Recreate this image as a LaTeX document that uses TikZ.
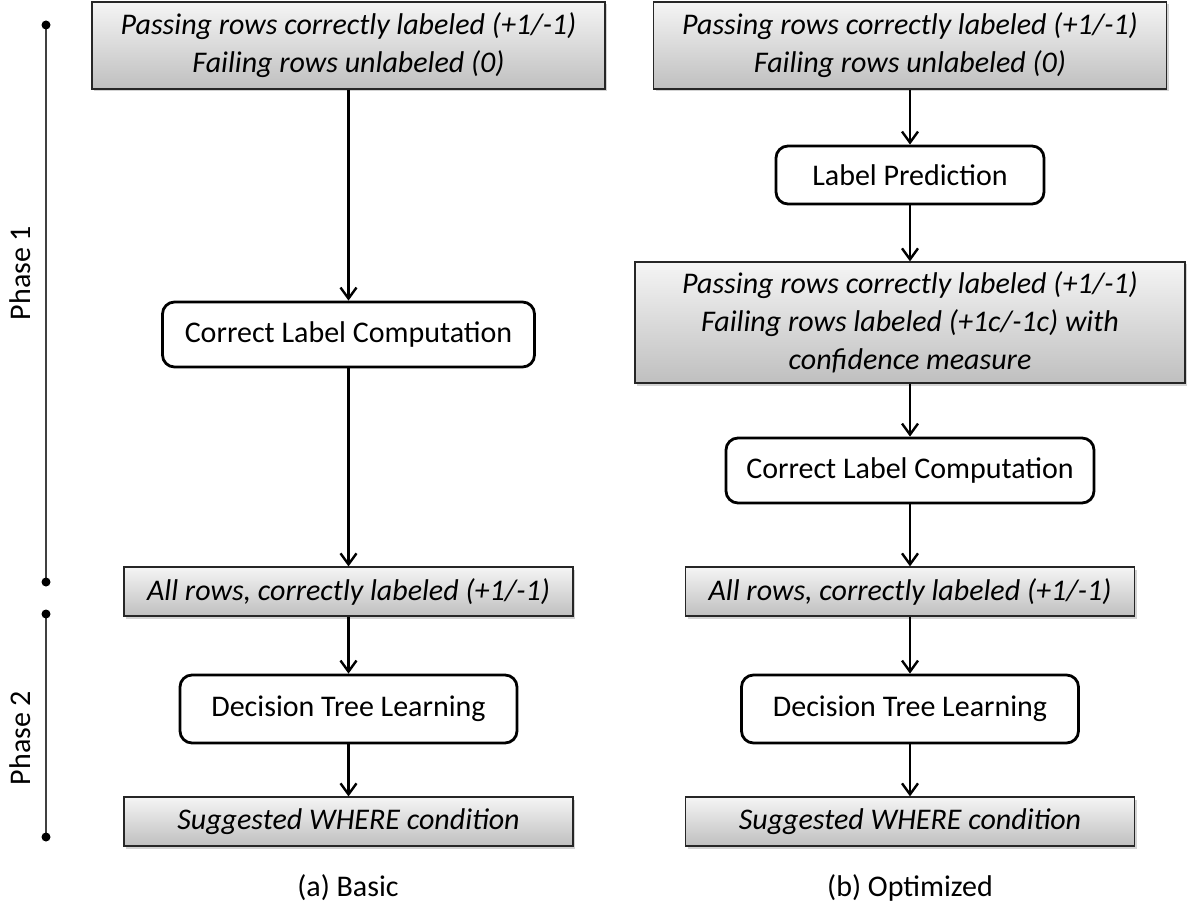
\documentclass[tikz,border=0pt]{standalone}
\usepackage{fontspec}
\setmainfont{Carlito}
\usetikzlibrary{arrows.meta,shadows}

\tikzset{
  databox/.style={draw=black!85, line width=1.2pt, top color=black!4, bottom color=black!25,
    drop shadow={shadow xshift=2pt, shadow yshift=-2.5pt, opacity=0.35},
    font=\itshape\fontsize{30}{38}\selectfont, align=center, inner sep=0pt},
  procbox/.style={draw, line width=2.8pt, rounded corners=12pt, fill=white,
    font=\fontsize{30}{36}\selectfont, inner sep=0pt},
  flow/.style={line width=2.4pt, -{Straight Barb[length=11pt,width=16pt,line width=2.4pt]}},
  phaseline/.style={draw=black!75, line width=1.5pt},
  plain/.style={font=\fontsize{30}{36}\selectfont},
}

\begin{document}
\begin{tikzpicture}[x=1pt,y=-1pt]
\useasboundingbox (0,0) rectangle (1191,909);

% phases
\coordinate (ph1top) at (46,25);
\coordinate (ph1bot) at (46,582);
\coordinate (ph2top) at (46,614);
\coordinate (ph2bot) at (46,837);
\draw[phaseline] (ph1top) -- (ph1bot) (ph2top) -- (ph2bot);
\foreach \p in {ph1top,ph1bot,ph2top,ph2bot}
  \fill (\p) circle (4.5pt);
\node[plain, rotate=90] (ph1) at (20,273) {Phase 1};
\node[plain, rotate=90] (ph2) at (20,738) {Phase 2};

% (a) basic
\node[databox, minimum width=513pt, minimum height=87pt] (passL) at (348.5,45.5)
  {Passing rows correctly labeled (+1/-1)\\Failing rows unlabeled (0)};
\node[procbox, minimum width=372pt, minimum height=65pt] (clcL) at (348.5,334.5) {Correct Label Computation};
\node[databox, minimum width=449pt, minimum height=49pt] (allL) at (348.5,591.5) {All rows, correctly labeled (+1/-1)};
\node[procbox, minimum width=337pt, minimum height=68pt] (dtlL) at (348.5,709) {Decision Tree Learning};
\node[databox, minimum width=449pt, minimum height=49pt] (sugL) at (348.5,821.5) {Suggested WHERE condition};
\node[plain] (capA) at (348,888) {(a) Basic};

% (b) optimized
\node[databox, minimum width=513pt, minimum height=87pt] (passR) at (910,45.5)
  {Passing rows correctly labeled (+1/-1)\\Failing rows unlabeled (0)};
\node[procbox, minimum width=268pt, minimum height=58pt] (lpR) at (910,175) {Label Prediction};
\node[databox, minimum width=550pt, minimum height=121pt] (confR) at (910,322.5)
  {Passing rows correctly labeled (+1/-1)\\Failing rows labeled (+1c/-1c) with\\confidence measure};
\node[procbox, minimum width=368pt, minimum height=65pt] (clcR) at (910,470.5) {Correct Label Computation};
\node[databox, minimum width=449pt, minimum height=49pt] (allR) at (910,591.5) {All rows, correctly labeled (+1/-1)};
\node[procbox, minimum width=337pt, minimum height=68pt] (dtlR) at (910,709) {Decision Tree Learning};
\node[databox, minimum width=449pt, minimum height=49pt] (sugR) at (910,821.5) {Suggested WHERE condition};
\node[plain] (capB) at (910,888) {(b) Optimized};

\foreach \a/\b in {passL/clcL, clcL/allL, allL/dtlL, dtlL/sugL,
                   passR/lpR, lpR/confR, confR/clcR, clcR/allR, allR/dtlR, dtlR/sugR}
  \draw[flow] (\a) -- (\b);
\end{tikzpicture}
\end{document}
